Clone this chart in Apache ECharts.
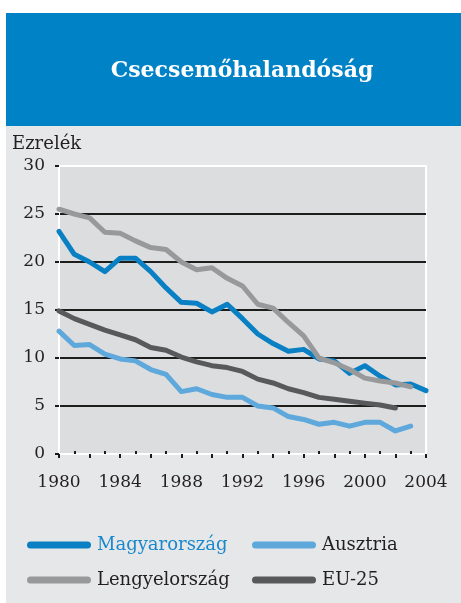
<!DOCTYPE html>
<html>
<head>
<meta charset="utf-8">
<script src="https://cdn.jsdelivr.net/npm/echarts@6/dist/echarts.min.js"></script>
<style>
html,body{margin:0;padding:0;background:#fff}
#main{width:461px;height:603px}
</style>
</head>
<body>
<div id="main"></div>
<script>
// evek
var years = []
for (var y = 1980; y <= 2004; y++) years.push(String(y))

var magyar = [23.2, 20.8, 20.0, 19.0, 20.4, 20.4, 19.0, 17.3, 15.8, 15.7, 14.8, 15.6, 14.1, 12.5, 11.5, 10.7, 10.9, 9.9, 9.7, 8.4, 9.2, 8.1, 7.2, 7.3, 6.6]
var ausztria = [12.8, 11.3, 11.4, 10.4, 9.9, 9.7, 8.8, 8.3, 6.5, 6.8, 6.2, 5.9, 5.9, 5.0, 4.8, 3.9, 3.6, 3.1, 3.3, 2.9, 3.3, 3.3, 2.4, 2.9]
var lengyel = [25.5, 25.0, 24.6, 23.1, 23.0, 22.2, 21.5, 21.3, 20.0, 19.2, 19.4, 18.3, 17.5, 15.6, 15.2, 13.7, 12.3, 10.0, 9.5, 8.8, 7.9, 7.6, 7.4, 7.0]
var eu25 = [14.9, 14.1, 13.5, 12.9, 12.4, 11.9, 11.1, 10.8, 10.1, 9.6, 9.2, 9.0, 8.6, 7.8, 7.4, 6.8, 6.4, 5.9, 5.7, 5.5, 5.3, 5.1, 4.8]
var yTicks = [0, 5, 10, 15, 20, 25, 30]

var fnt = 'DejaVu Serif'
var capsule = 'path://M3.5,0 H60.5 A3.5,3.5 0 0 1 60.5,7 H3.5 A3.5,3.5 0 0 1 3.5,0 Z'

function line(name, data, color) {
    return {
        name: name,
        type: 'line',
        data: data,
        symbol: 'none',
        color: color,
        itemStyle: { color: color },
        lineStyle: { width: 5, color: color, cap: 'round', join: 'round' }
    }
}

var mCharts = echarts.init(document.getElementById('main'))
var option = {
    animation: false,
    graphic: [
        { type: 'rect', z: -100, silent: true, shape: { x: 6, y: 13, width: 455, height: 113 }, style: { fill: '#0082c6' } },
        { type: 'rect', z: -100, silent: true, shape: { x: 6, y: 126, width: 455, height: 477 }, style: { fill: '#e6e7e9' } }
    ],
    title: [
        {
            text: 'Csecsemőhalandóság',
            left: 237, top: 55, textAlign: 'center',
            textStyle: { color: '#fff', fontFamily: fnt, fontWeight: 'bold', fontSize: 22 }
        },
        {
            text: 'Ezrelék',
            left: 12, top: 135, padding: 0,
            textStyle: { color: '#231f20', fontFamily: fnt, fontWeight: 'normal', fontSize: 18 }
        }
    ],
    grid: {
        left: 59, right: 35, top: 166, bottom: 149,
        show: true, backgroundColor: '#dcdddf', borderColor: '#fff', borderWidth: 2
    },
    legend: [
        {
            left: 22, top: 531, orient: 'vertical', itemGap: 17,
            itemWidth: 64, itemHeight: 7, icon: capsule,
            itemStyle: { borderWidth: 0 },
            textStyle: { fontFamily: fnt, fontSize: 18, color: '#231f20', padding: [0, 0, 0, 1] },
            data: [
                { name: 'Magyarország', textStyle: { color: '#1a88cc' } },
                { name: 'Lengyelország' }
            ]
        },
        {
            left: 247, top: 531, orient: 'vertical', itemGap: 17,
            itemWidth: 64, itemHeight: 7, icon: capsule,
            itemStyle: { borderWidth: 0 },
            textStyle: { fontFamily: fnt, fontSize: 18, color: '#231f20', padding: [0, 0, 0, 1] },
            data: ['Ausztria', 'EU-25']
        }
    ],
    xAxis: [
        {
            type: 'category', data: years, boundaryGap: false, position: 'bottom',
            axisLine: { lineStyle: { color: '#fff', width: 2 } },
            axisTick: {
                inside: false, length: 4,
                interval: function (i) { return i % 2 === 0 },
                lineStyle: { color: '#1a1a1a', width: 2 }
            },
            axisLabel: { interval: 3, margin: 20, color: '#231f20', fontFamily: fnt, fontSize: 17 },
            splitLine: { show: false }
        },
        {
            type: 'category', data: years, boundaryGap: false, position: 'bottom', offset: 0,
            axisLine: { show: false },
            axisTick: {
                inside: true, length: 3,
                interval: function (i) { return i % 2 === 1 },
                lineStyle: { color: '#1a1a1a', width: 2 }
            },
            axisLabel: { show: false },
            splitLine: { show: false }
        }
    ],
    yAxis: {
        type: 'value', min: yTicks[0], max: yTicks[yTicks.length - 1], interval: 5,
        axisLine: { show: true, lineStyle: { color: '#fff', width: 2 } },
        axisTick: { show: true, length: 4, lineStyle: { color: '#1a1a1a', width: 2 } },
        axisLabel: { margin: 14, color: '#231f20', fontFamily: fnt, fontSize: 17 },
        splitLine: {
            lineStyle: { width: 2, color: ['#fff', '#1d1d1b', '#1d1d1b', '#1d1d1b', '#1d1d1b', '#1d1d1b', '#fff'] }
        }
    },
    series: [
        line('EU-25', eu25, '#58595b'),
        line('Ausztria', ausztria, '#5ea8dc'),
        line('Magyarország', magyar, '#0a80c4'),
        line('Lengyelország', lengyel, '#98999b')
    ]
}
mCharts.setOption(option)
</script>
</body>
</html>
